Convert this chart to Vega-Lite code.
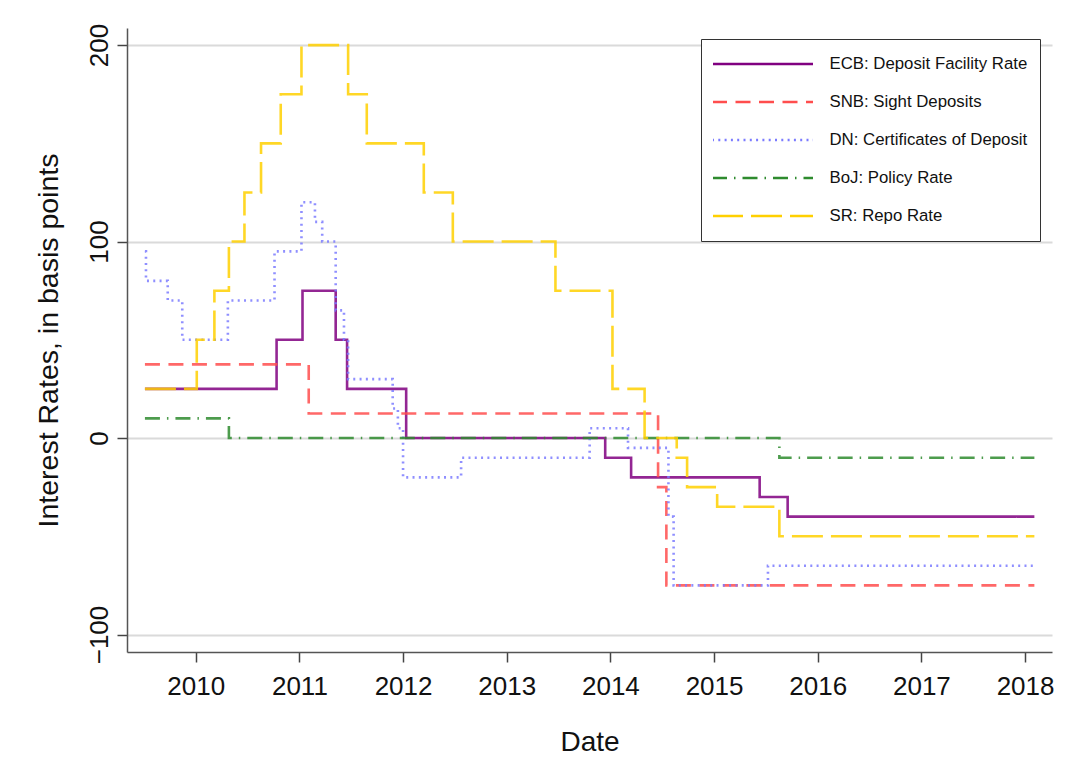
{
  "$schema": "https://vega.github.io/schema/vega-lite/v6.json",
  "width": 925,
  "height": 624,
  "autosize": {"type": "none"},
  "padding": {"left": 127, "top": 28, "right": 28, "bottom": 107},
  "background": "white",
  "config": {
    "view": {"stroke": null},
    "font": "Liberation Sans"
  },
  "data": {
    "values": [
      {"series": "ECB: Deposit Facility Rate", "year": 2009.51, "rate": 25},
      {"series": "ECB: Deposit Facility Rate", "year": 2010.78, "rate": 50},
      {"series": "ECB: Deposit Facility Rate", "year": 2011.03, "rate": 75},
      {"series": "ECB: Deposit Facility Rate", "year": 2011.35, "rate": 50},
      {"series": "ECB: Deposit Facility Rate", "year": 2011.46, "rate": 25},
      {"series": "ECB: Deposit Facility Rate", "year": 2012.03, "rate": 0},
      {"series": "ECB: Deposit Facility Rate", "year": 2013.95, "rate": -10},
      {"series": "ECB: Deposit Facility Rate", "year": 2014.20, "rate": -20},
      {"series": "ECB: Deposit Facility Rate", "year": 2015.44, "rate": -30},
      {"series": "ECB: Deposit Facility Rate", "year": 2015.71, "rate": -40},
      {"series": "ECB: Deposit Facility Rate", "year": 2018.09, "rate": -40},

      {"series": "SNB: Sight Deposits", "year": 2009.51, "rate": 37.5},
      {"series": "SNB: Sight Deposits", "year": 2011.09, "rate": 12.5},
      {"series": "SNB: Sight Deposits", "year": 2014.46, "rate": -25},
      {"series": "SNB: Sight Deposits", "year": 2014.54, "rate": -75},
      {"series": "SNB: Sight Deposits", "year": 2018.09, "rate": -75},

      {"series": "DN: Certificates of Deposit", "year": 2009.51, "rate": 95},
      {"series": "DN: Certificates of Deposit", "year": 2009.52, "rate": 80},
      {"series": "DN: Certificates of Deposit", "year": 2009.73, "rate": 70},
      {"series": "DN: Certificates of Deposit", "year": 2009.87, "rate": 50},
      {"series": "DN: Certificates of Deposit", "year": 2010.31, "rate": 70},
      {"series": "DN: Certificates of Deposit", "year": 2010.76, "rate": 95},
      {"series": "DN: Certificates of Deposit", "year": 2011.02, "rate": 120},
      {"series": "DN: Certificates of Deposit", "year": 2011.15, "rate": 110},
      {"series": "DN: Certificates of Deposit", "year": 2011.22, "rate": 100},
      {"series": "DN: Certificates of Deposit", "year": 2011.35, "rate": 65},
      {"series": "DN: Certificates of Deposit", "year": 2011.43, "rate": 50},
      {"series": "DN: Certificates of Deposit", "year": 2011.47, "rate": 30},
      {"series": "DN: Certificates of Deposit", "year": 2011.90, "rate": 15},
      {"series": "DN: Certificates of Deposit", "year": 2011.95, "rate": 5},
      {"series": "DN: Certificates of Deposit", "year": 2012.00, "rate": -20},
      {"series": "DN: Certificates of Deposit", "year": 2012.56, "rate": -10},
      {"series": "DN: Certificates of Deposit", "year": 2013.80, "rate": 5},
      {"series": "DN: Certificates of Deposit", "year": 2014.17, "rate": -5},
      {"series": "DN: Certificates of Deposit", "year": 2014.56, "rate": -40},
      {"series": "DN: Certificates of Deposit", "year": 2014.61, "rate": -75},
      {"series": "DN: Certificates of Deposit", "year": 2015.52, "rate": -65},
      {"series": "DN: Certificates of Deposit", "year": 2018.09, "rate": -65},

      {"series": "BoJ: Policy Rate", "year": 2009.51, "rate": 10},
      {"series": "BoJ: Policy Rate", "year": 2010.32, "rate": 0},
      {"series": "BoJ: Policy Rate", "year": 2015.63, "rate": -10},
      {"series": "BoJ: Policy Rate", "year": 2018.09, "rate": -10},

      {"series": "SR: Repo Rate", "year": 2009.51, "rate": 25},
      {"series": "SR: Repo Rate", "year": 2010.01, "rate": 50},
      {"series": "SR: Repo Rate", "year": 2010.18, "rate": 75},
      {"series": "SR: Repo Rate", "year": 2010.32, "rate": 100},
      {"series": "SR: Repo Rate", "year": 2010.47, "rate": 125},
      {"series": "SR: Repo Rate", "year": 2010.63, "rate": 150},
      {"series": "SR: Repo Rate", "year": 2010.82, "rate": 175},
      {"series": "SR: Repo Rate", "year": 2011.02, "rate": 200},
      {"series": "SR: Repo Rate", "year": 2011.47, "rate": 175},
      {"series": "SR: Repo Rate", "year": 2011.65, "rate": 150},
      {"series": "SR: Repo Rate", "year": 2012.20, "rate": 125},
      {"series": "SR: Repo Rate", "year": 2012.48, "rate": 100},
      {"series": "SR: Repo Rate", "year": 2013.47, "rate": 75},
      {"series": "SR: Repo Rate", "year": 2014.02, "rate": 25},
      {"series": "SR: Repo Rate", "year": 2014.33, "rate": 0},
      {"series": "SR: Repo Rate", "year": 2014.64, "rate": -10},
      {"series": "SR: Repo Rate", "year": 2014.74, "rate": -25},
      {"series": "SR: Repo Rate", "year": 2015.03, "rate": -35},
      {"series": "SR: Repo Rate", "year": 2015.63, "rate": -50},
      {"series": "SR: Repo Rate", "year": 2018.09, "rate": -50}
    ]
  },
  "mark": {"type": "line", "interpolate": "step-after", "strokeWidth": 2.6, "strokeOpacity": 0.85, "strokeCap": "butt"},
  "encoding": {
    "x": {
      "field": "year",
      "type": "quantitative",
      "scale": {"domain": [2009.337, 2018.26], "nice": false, "zero": false},
      "axis": {
        "values": [2010, 2011, 2012, 2013, 2014, 2015, 2016, 2017, 2018],
        "format": "d",
        "grid": false,
        "title": "Date",
        "titleFontSize": 28,
        "titleFontWeight": "normal",
        "titleColor": "#111",
        "titleX": 462.5,
        "titleY": 98,
        "titleAlign": "center",
        "titleBaseline": "alphabetic",
        "labelFontSize": 26,
        "labelColor": "#111",
        "labelBaseline": "alphabetic",
        "labelPadding": 32,
        "tickSize": 10,
        "tickColor": "#444",
        "tickWidth": 1.5,
        "domainColor": "#555",
        "domainWidth": 1.5,
        "labelFlush": false,
        "labelOverlap": false
      }
    },
    "y": {
      "field": "rate",
      "type": "quantitative",
      "scale": {"domain": [-108.9, 208.7], "nice": false, "zero": false},
      "axis": {
        "values": [-100, 0, 100, 200],
        "grid": true,
        "gridColor": "#DADADA",
        "gridWidth": 2,
        "title": "Interest Rates, in basis points",
        "titleFontSize": 28.5,
        "titleFontWeight": "normal",
        "titleColor": "#111",
        "titleAngle": -90,
        "titleX": -70,
        "titleY": 312,
        "titleAlign": "center",
        "titleBaseline": "alphabetic",
        "labelAngle": -90,
        "labelAlign": "center",
        "labelBaseline": "alphabetic",
        "labelFontSize": 26,
        "labelColor": "#111",
        "labelPadding": 10,
        "tickSize": 10,
        "tickColor": "#444",
        "tickWidth": 1.5,
        "domainColor": "#555",
        "domainWidth": 1.5,
        "labelFlush": false,
        "labelOverlap": false
      }
    },
    "color": {
      "field": "series",
      "type": "nominal",
      "scale": {
        "domain": ["ECB: Deposit Facility Rate", "SNB: Sight Deposits", "DN: Certificates of Deposit", "BoJ: Policy Rate", "SR: Repo Rate"],
        "range": ["#800080", "#FF4D4D", "#7B7BFF", "#2E8B2E", "#FFD000"]
      },
      "legend": {
        "title": null,
        "orient": "none",
        "legendX": 574,
        "legendY": 11,
        "direction": "vertical",
        "padding": 12,
        "strokeColor": "#333",
        "fillColor": "white",
        "symbolType": "stroke",
        "symbolSize": 10201,
        "symbolStrokeWidth": 2.5,
        "symbolOffset": -2.5,
        "clipHeight": 26,
        "rowPadding": 12,
        "labelOffset": 15,
        "labelFontSize": 16.8,
        "labelColor": "#111",
        "labelLimit": 400
      }
    },
    "strokeDash": {
      "field": "series",
      "type": "nominal",
      "scale": {
        "domain": ["ECB: Deposit Facility Rate", "SNB: Sight Deposits", "DN: Certificates of Deposit", "BoJ: Policy Rate", "SR: Repo Rate"],
        "range": [[1, 0], [15, 8.5], [2, 4.3], [15, 7, 1.5, 7], [31, 8]]
      }
    }
  }
}
